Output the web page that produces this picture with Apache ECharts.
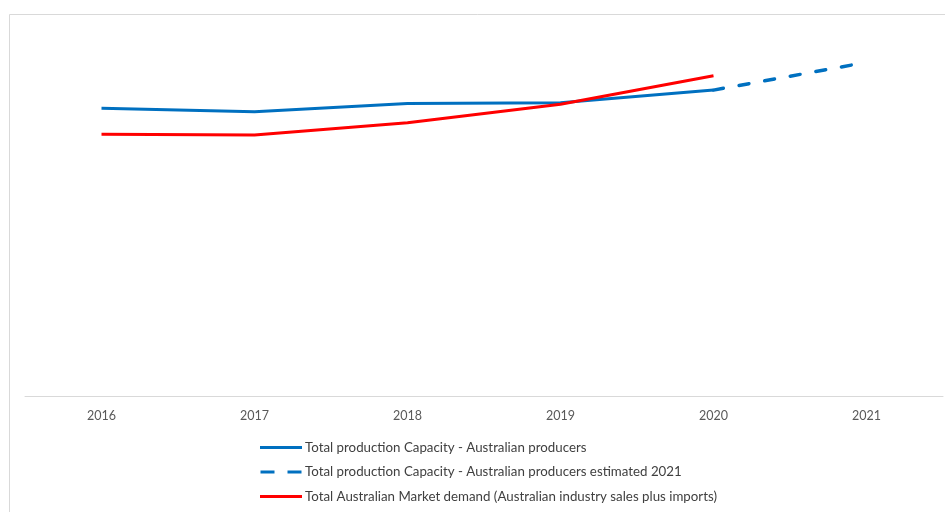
<!DOCTYPE html>
<html>
<head>
<meta charset="utf-8">
<script src="https://cdn.jsdelivr.net/npm/echarts@6/dist/echarts.min.js"></script>
<style>
  html, body { margin: 0; padding: 0; background: #ffffff; }
  #chart { width: 945px; height: 512px; }
</style>
</head>
<body>
<div id="chart"></div>
<script>
// Years on the category axis
const years = ['2016', '2017', '2018', '2019', '2020', '2021'];

// Total production capacity of Australian producers (index units)
const capacity = [75.7, 74.8, 77.0, 77.2, 80.5, null];

// Estimated capacity for 2021, continuing from the 2020 value
const capacityEstimate = [null, null, null, null, 80.5, 87.8];

// Total Australian market demand (industry sales plus imports)
const marketDemand = [68.9, 68.7, 71.9, 76.8, 84.3, null];

const seriesNames = [
  'Total production Capacity - Australian producers',
  'Total production Capacity - Australian producers estimated 2021',
  'Total Australian Market demand (Australian industry sales plus imports)'
];

const BLUE = '#0070C0';
const RED = '#FF0000';
const FONT = 'Lato, "Open Sans", sans-serif';

// Legend keys: a solid bar and a two-dash bar
const SOLID_ICON = 'path://M0,0L42,0L42,3L0,3Z';
const DASH_ICON = 'path://M0,0L14,0L14,3L0,3Z M27,0L41,0L41,3L27,3Z';

const chart = echarts.init(document.getElementById('chart'), null, { renderer: 'canvas' });

chart.setOption({
  animation: false,
  backgroundColor: '#ffffff',
  grid: { left: 25, right: 2, top: 16, bottom: 116, containLabel: false },
  xAxis: {
    type: 'category',
    data: years,
    boundaryGap: true,
    axisLine: { show: true, lineStyle: { color: '#d9d9d9', width: 1 } },
    axisTick: { show: false },
    axisLabel: { color: '#595959', fontSize: 12.5, fontFamily: FONT, margin: 13 },
    splitLine: { show: false }
  },
  yAxis: {
    type: 'value',
    min: 0,
    max: 100,
    show: false,
    splitLine: { show: false }
  },
  legend: {
    orient: 'vertical',
    left: 260,
    top: 441,
    padding: 0,
    itemWidth: 42,
    itemHeight: 3,
    itemGap: 11.5,
    textStyle: { color: '#404040', fontSize: 13.3, fontFamily: FONT, padding: [0, 0, 0, -2] },
    data: [
      { name: seriesNames[0], icon: SOLID_ICON },
      { name: seriesNames[1], icon: DASH_ICON },
      { name: seriesNames[2], icon: SOLID_ICON }
    ]
  },
  graphic: [{
    type: 'rect',
    shape: { x: 9.5, y: 14.5, width: 960, height: 520 },
    style: { fill: 'none', stroke: '#d9d9d9', lineWidth: 1 },
    silent: true,
    z: -1
  }],
  series: [
    {
      name: seriesNames[0],
      type: 'line',
      data: capacity,
      symbol: 'none',
      color: BLUE,
      lineStyle: { color: BLUE, width: 3 }
    },
    {
      name: seriesNames[1],
      type: 'line',
      data: capacityEstimate,
      symbol: 'none',
      color: BLUE,
      lineStyle: { color: BLUE, width: 3.5, type: [10, 16], cap: 'round' }
    },
    {
      name: seriesNames[2],
      type: 'line',
      data: marketDemand,
      symbol: 'none',
      color: RED,
      lineStyle: { color: RED, width: 3 }
    }
  ]
});
</script>
</body>
</html>
